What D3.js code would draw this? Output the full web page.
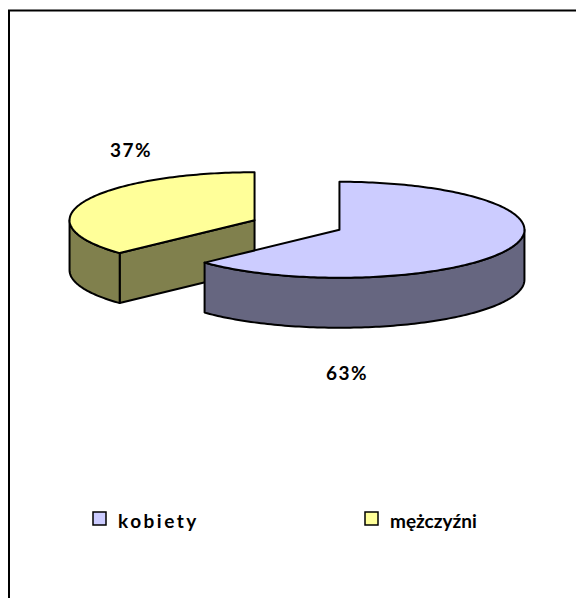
<!DOCTYPE html>
<html>
<head>
<meta charset="utf-8">
<script src="https://d3js.org/d3.v7.min.js"></script>
<style>
  body { margin: 0; background: #fff; }
  svg { display: block; }
  text { font-family: Lato, "Open Sans", sans-serif; font-weight: bold; fill: #000; }
</style>
</head>
<body>
<script>
// data
var categories = ["kobiety", "mężczyźni"];
var values = [63, 37];
var pctLabels = ["63%", "37%"];
var topColors = ["#CCCCFF", "#FFFF99"];
var sideColors = ["#666680", "#80804D"];

var width = 576, height = 598;
var cx = 297, cy = 225;        // pie centre before explosion
var rx = 185, ry = 48, depth = 50;
var explode = 0.25;            // fraction of radius
// label anchors (Excel places them by its own rules)
var labelAt = [[347, 380], [131, 157]];
var legendX = [93, 365], legendY = 512;

var svg = d3.select("body").append("svg")
  .attr("width", width)
  .attr("height", height);

svg.append("rect")
  .attr("x", 9).attr("y", 10.5)
  .attr("width", 700).attr("height", 700)
  .attr("fill", "#fff")
  .attr("stroke", "#000")
  .attr("stroke-width", 2);

var pie = d3.pie().sort(null).value(function(d) { return d; });
var arcs = pie(values);

function pt(c, a, dy) {
  return [c[0] + rx * Math.sin(a), c[1] - ry * Math.cos(a) + (dy || 0)];
}
function arcPts(c, a0, a1, dy) {
  var n = Math.max(2, Math.ceil(Math.abs(a1 - a0) / 0.02));
  return d3.range(n + 1).map(function(i) { return pt(c, a0 + (a1 - a0) * i / n, dy); });
}
var line = d3.line();

var slices = arcs.map(function(d, i) {
  var mid = (d.startAngle + d.endAngle) / 2;
  var c = [cx + rx * explode * Math.sin(mid), cy - ry * explode * Math.cos(mid)];
  return { d: d, i: i, c: c };
});
// back to front
slices.sort(function(a, b) { return a.c[1] - b.c[1]; });

var g = svg.append("g")
  .attr("stroke", "#000")
  .attr("stroke-width", 2)
  .attr("stroke-linejoin", "round");

slices.forEach(function(s) {
  var a0 = s.d.startAngle, a1 = s.d.endAngle, c = s.c;
  var side = sideColors[s.i], top = topColors[s.i];

  // flat cut faces
  [[a0, -1], [a1, 1]].forEach(function(f) {
    if (f[1] * Math.sin(f[0]) > 1e-6) {
      var p = pt(c, f[0]);
      g.append("path")
        .attr("d", line([c, p, [p[0], p[1] + depth], [c[0], c[1] + depth]]) + "Z")
        .attr("fill", side);
    }
  });

  // outer wall (front half only)
  var w0 = Math.max(a0, Math.PI / 2), w1 = Math.min(a1, 3 * Math.PI / 2);
  if (w1 > w0) {
    var upper = arcPts(c, w0, w1, 0);
    var lower = arcPts(c, w1, w0, depth);
    g.append("path")
      .attr("d", line(upper.concat(lower)) + "Z")
      .attr("fill", side);
  }

  // top face
  g.append("path")
    .attr("d", line([c].concat(arcPts(c, a0, a1, 0))) + "Z")
    .attr("fill", top);
});

// percentage labels
svg.selectAll("text.pct")
  .data(pctLabels)
  .join("text")
  .attr("class", "pct")
  .attr("x", function(d, i) { return labelAt[i][0]; })
  .attr("y", function(d, i) { return labelAt[i][1]; })
  .attr("text-anchor", "middle")
  .attr("font-size", 19)
  .attr("letter-spacing", 1.5)
  .text(function(d) { return d; });

// legend
var leg = svg.selectAll("g.leg")
  .data(categories)
  .join("g")
  .attr("class", "leg")
  .attr("transform", function(d, i) { return "translate(" + legendX[i] + "," + legendY + ")"; });

leg.append("rect")
  .attr("width", 13).attr("height", 13)
  .attr("fill", function(d, i) { return topColors[i]; })
  .attr("stroke", "#000")
  .attr("stroke-width", 1.5);

leg.append("text")
  .attr("x", 25)
  .attr("y", 16)
  .attr("font-size", 19)
  .attr("letter-spacing", function(d, i) { return i === 0 ? 2.5 : 0; })
  .text(function(d) { return d; });
</script>
</body>
</html>
